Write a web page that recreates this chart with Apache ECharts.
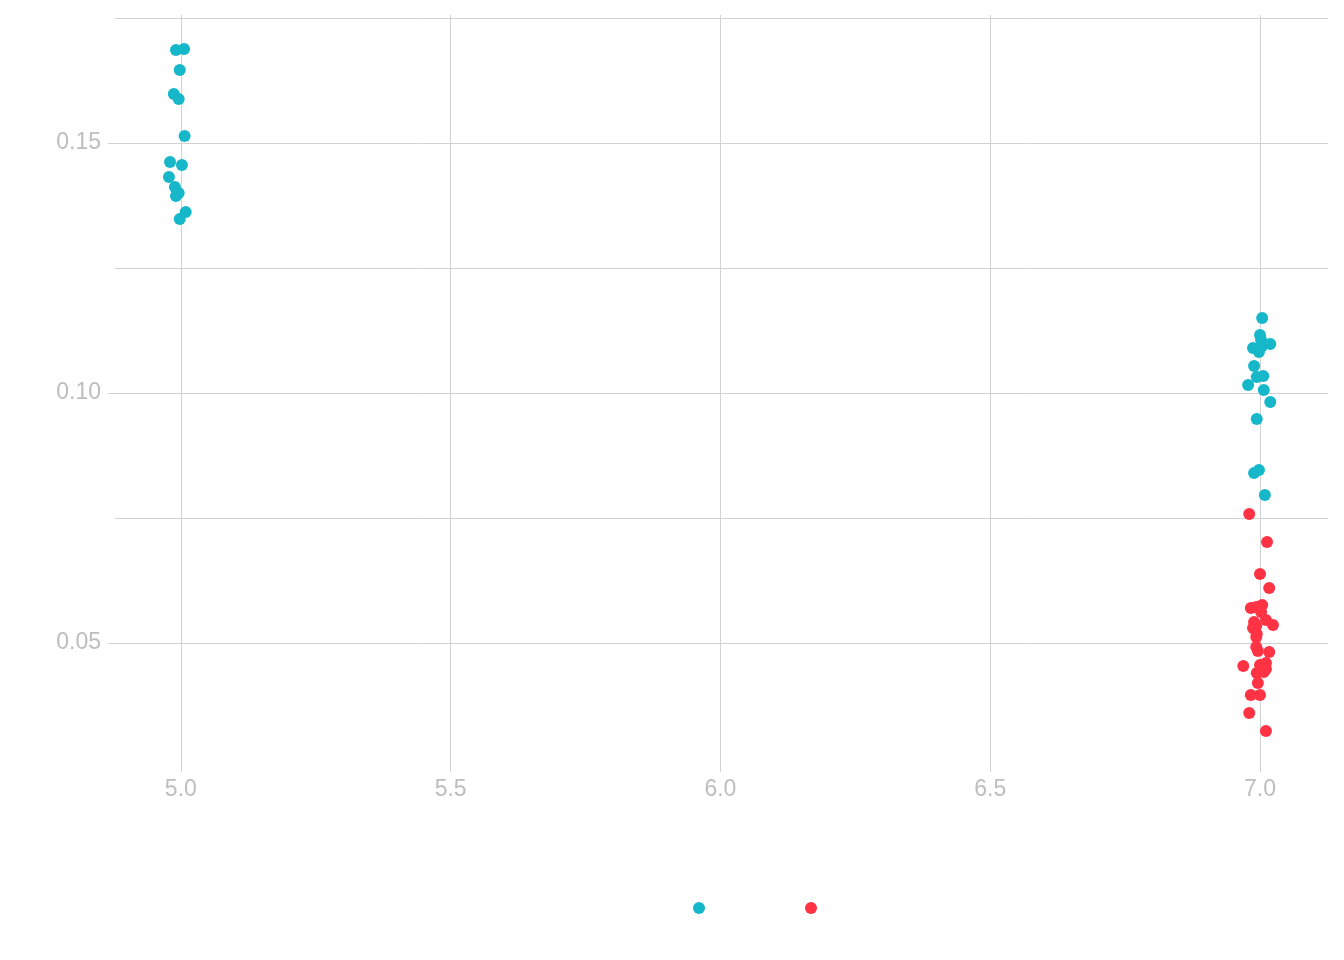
<!DOCTYPE html>
<html lang="en">
<head>
  <meta charset="UTF-8">
  <title>scatter</title>
  <style>
    html, body { margin: 0; padding: 0; background: #fff; }
    #chart { width: 1344px; height: 960px; }
  </style>
</head>
<body>
  <div id="chart"></div>
  <script src="https://cdn.jsdelivr.net/npm/echarts@6/dist/echarts.min.js"></script>
  <script>
    // values
    const tealX = [4.991, 5.006, 4.998, 4.987, 4.996, 5.007, 4.980, 5.002, 4.978, 4.989, 4.996, 4.991, 5.009, 4.998,
      7.004, 7.000, 7.002, 6.987, 7.004, 7.019, 6.998, 6.989, 6.994, 7.006, 6.978, 7.007, 7.019, 6.994, 6.989, 6.998, 7.009];
    const tealY = [0.1686, 0.1688, 0.1646, 0.1598, 0.1588, 0.1514, 0.1462, 0.1456, 0.1432, 0.1412, 0.1400, 0.1394, 0.1362, 0.1348,
      0.1150, 0.1116, 0.1106, 0.1090, 0.1094, 0.1098, 0.1082, 0.1054, 0.1032, 0.1034, 0.1016, 0.1006, 0.0982, 0.0948, 0.0840, 0.0846, 0.0796];
    const redX = [6.980, 7.013, 7.000, 7.017, 6.983, 6.993, 7.004, 7.002, 6.989, 6.993, 7.011, 7.024, 6.994, 6.993, 6.996,
      7.017, 6.969, 7.000, 7.011, 7.011, 6.994, 6.996, 6.983, 7.000, 6.980, 7.011, 6.987, 6.993, 7.007];
    const redY = [0.0758, 0.0702, 0.0638, 0.0610, 0.0570, 0.0572, 0.0576, 0.0562, 0.0542, 0.0534, 0.0546, 0.0536, 0.0518, 0.0492, 0.0484,
      0.0482, 0.0454, 0.0456, 0.0460, 0.0448, 0.0440, 0.0420, 0.0396, 0.0396, 0.0360, 0.0324, 0.0530, 0.0512, 0.0442];
    const xTicks = [5.0, 5.5, 6.0, 6.5, 7.0];
    const yTicks = [0.05, 0.10, 0.15];
    const yGrid = [0.05, 0.075, 0.10, 0.125, 0.15, 0.175];

    const zip = (xs, ys) => xs.map((x, i) => [x, ys[i]]);

    const gridColor = '#d2d2d2';
    const labelColor = '#bdbdbd';
    const font = 'Liberation Sans';

    const chart = echarts.init(document.getElementById('chart'));
    const option = {
      animation: false,
      backgroundColor: '#ffffff',
      grid: { left: 115, right: 16, top: 15, bottom: 195 },
      xAxis: {
        type: 'value',
        min: 4.878,
        max: 7.126,
        axisLine: { show: false },
        axisTick: { show: true, customValues: xTicks, length: 7, lineStyle: { color: gridColor, width: 1 } },
        axisLabel: {
          customValues: xTicks, margin: 13, color: labelColor, fontSize: 23, fontFamily: font,
          formatter: v => v.toFixed(1)
        },
        splitLine: { show: true, lineStyle: { color: gridColor, width: 1 } }
      },
      yAxis: [{
        type: 'value',
        min: 0.0256,
        max: 0.1756,
        axisLine: { show: false },
        axisTick: { show: false, customValues: yGrid },
        axisLabel: { show: false },
        splitLine: { show: true, lineStyle: { color: gridColor, width: 1 } }
      }, {
        type: 'value',
        position: 'left',
        min: 0.0256,
        max: 0.1756,
        axisLine: { show: false },
        axisTick: { show: true, customValues: yTicks, length: 7, lineStyle: { color: gridColor, width: 1 } },
        axisLabel: {
          customValues: yTicks, margin: 14, color: labelColor, fontSize: 23, fontFamily: font,
          verticalAlign: 'middle',
          lineHeight: 27,
          padding: [7, 0, 0, 0],
          formatter: v => v.toFixed(2)
        },
        splitLine: { show: false }
      }],
      legend: {
        left: 688,
        top: 897,
        itemWidth: 12,
        itemHeight: 12,
        itemGap: 100,
        icon: 'circle',
        formatter: () => '',
        textStyle: { color: 'rgba(0,0,0,0)' },
        data: ['a', 'b']
      },
      series: [{
        name: 'a',
        type: 'scatter',
        symbolSize: 12,
        itemStyle: { color: '#17b7ca', opacity: 1 },
        data: zip(tealX, tealY)
      }, {
        name: 'b',
        type: 'scatter',
        symbolSize: 12,
        itemStyle: { color: '#ff3344', opacity: 1 },
        data: zip(redX, redY)
      }]
    };
    chart.setOption(option);
  </script>
</body>
</html>
